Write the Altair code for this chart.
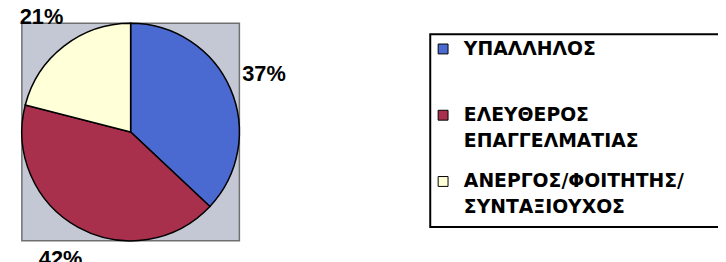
import altair as alt
import pandas as pd

categories = ["ΥΠΑΛΛΗΛΟΣ", "ΕΛΕΥΘΕΡΟΣ ΕΠΑΓΓΕΛΜΑΤΙΑΣ", "ΑΝΕΡΓΟΣ/ΦΟΙΤΗΤΗΣ/ΣΥΝΤΑΞΙΟΥΧΟΣ"]
legend_line1 = ["ΥΠΑΛΛΗΛΟΣ", "ΕΛΕΥΘΕΡΟΣ", "ΑΝΕΡΓΟΣ/ΦΟΙΤΗΤΗΣ/"]
legend_line2 = ["", "ΕΠΑΓΓΕΛΜΑΤΙΑΣ", "ΣΥΝΤΑΞΙΟΥΧΟΣ"]
values = [37, 42, 21]
labels = ["37%", "42%", "21%"]
colors = ["#4A6AD2", "#A8304C", "#FFFFD8"]
rows = [0, 1, 2]

df = pd.DataFrame({"cat": categories, "value": values, "label": labels, "order": rows,
                   "line1": legend_line1, "line2": legend_line2, "row": rows})
one = pd.DataFrame({"a": [0]})

FONT = "Liberation Sans"
LFONT = "DejaVu Sans"

color_enc = alt.Color("cat:N", scale=alt.Scale(domain=categories, range=colors), legend=None)

background = alt.Chart(one).mark_rect(
    fill="#C4C8D4", stroke="#707070", strokeWidth=1.5
).encode(x=alt.value(14), x2=alt.value(234), y=alt.value(14), y2=alt.value(234))

base = alt.Chart(df).encode(
    theta=alt.Theta("value:Q", stack=True),
    order=alt.Order("order:Q"),
)

arcs = base.mark_arc(outerRadius=110, stroke="black", strokeWidth=1.5).encode(
    color=color_enc, x=alt.value(124), y=alt.value(124)
)

texts = base.mark_text(
    radius=147, font=FONT, fontSize=22, fontWeight="bold", color="black"
).encode(text="label:N", x=alt.value(124), y=alt.value(124))

# legend
legend_box = alt.Chart(one).mark_rect(
    fill="white", stroke="black", strokeWidth=2
).encode(x=alt.value(427), x2=alt.value(740), y=alt.value(25), y2=alt.value(220))

row_y = alt.Y("row:Q", scale=alt.Scale(domain=[0, 2], range=[40, 174]), axis=None)

leg = alt.Chart(df)
symbols = leg.mark_square(size=100, stroke="black", strokeWidth=1, opacity=1).encode(
    x=alt.value(440), y=row_y, color=color_enc
)
line1 = leg.mark_text(
    align="left", baseline="middle", font=LFONT, fontSize=19, fontWeight="bold", color="black"
).encode(x=alt.value(461), y=row_y, text="line1:N")
line2 = leg.mark_text(
    align="left", baseline="middle", font=LFONT, fontSize=19, fontWeight="bold", color="black", dy=26
).encode(x=alt.value(461), y=row_y, text="line2:N")

chart = (
    alt.layer(background, arcs, texts, legend_box, symbols, line1, line2)
    .properties(width=718, height=254, autosize=alt.AutoSizeParams(type="none"), padding=0)
    .configure_view(stroke=None)
)

chart.save("out.html", embed_options={"renderer": "svg", "actions": False})
